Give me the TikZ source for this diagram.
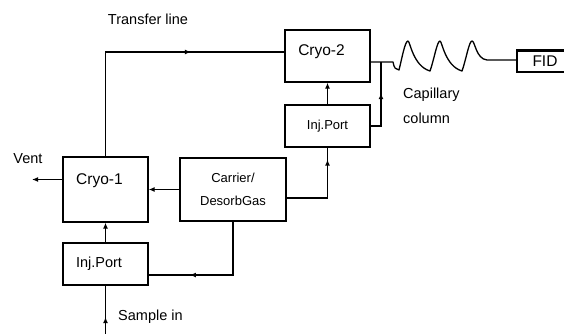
\documentclass[tikz,border=0pt]{standalone}
\usepackage{fontspec}
\setmainfont{Liberation Sans}
\usetikzlibrary{positioning,arrows.meta,decorations.markings}

\begin{document}
\begin{tikzpicture}[x=1pt, y=-1pt,
  box/.style={draw, line width=1.4pt, minimum width=85pt, inner sep=0pt},
  lbl/.style={font=\fontsize{14.5}{17}\selectfont, inner sep=0pt},
  big/.style={font=\fontsize{15.5}{18}\selectfont, inner sep=0pt},
  small/.style={font=\fontsize{13}{23}\selectfont},
  pipe/.style={draw, line width=1.3pt},
  tip/.style={-{Latex[length=6pt,width=5pt]}},
  midarr/.style={postaction={decorate}, decoration={markings,
      mark=at position #1 with {\arrow{Latex[length=6pt,width=5pt]}}}}
]
\useasboundingbox (0,0) rectangle (564,334);
\clip (0,0) rectangle (564,334);

% boxes
\node[box, minimum height=65pt] (cryo1) at (105.5,189.5) {};
\node[big] (cryo1txt) at (99.5,181) {Cryo-1};
\node[box, minimum height=52pt] (cryo2) at (327.5,56) {};
\node[big] (cryo2txt) at (321.5,52) {Cryo-2};
\node[box, minimum height=42pt] (injb) at (105.5,264) {};
\node[lbl] (injbtxt) at (99,264) {Inj.Port};
\node[box, small, minimum height=42pt] (injt) at (327.5,126) {Inj.Port};
\node[box, small, minimum width=106pt, minimum height=63pt, align=center] (carrier) at (233,189.5) {Carrier/\\DesorbGas};
\node[box, big, minimum width=56pt, minimum height=21pt] (fid) at (545,61.5) {FID};
\draw[line width=3pt] (fid.north west) -- (fid.north east);

% labels
\node[lbl] (trans) at (148,19) {Transfer line};
\node[lbl] (venttxt) at (28,159) {Vent};
\node[lbl, anchor=west] (cap1) at (403,95) {Capillary};
\node[lbl, anchor=west] (cap2) at (403,118) {column};
\node[lbl, anchor=west] (samptxt) at (118,317) {Sample in};

% free ends
\coordinate (vent) at (32,179.5);
\coordinate (samp) at (105.5,334);
\coordinate (junc) at (381,62);
\coordinate (colin) at (393,62);

% lines
\draw[pipe, midarr=0.67] (cryo1.north) |- ([yshift=4pt]cryo2.west);
\draw[pipe, tip] ([yshift=10pt]cryo1.west) -- (vent);
\draw[pipe, tip] (carrier) -- (cryo1);
\draw[pipe, tip] (injb) -- (cryo1);
\draw[pipe, tip] (injt) -- (cryo2);
\draw[pipe, midarr=0.87] ([yshift=-8.5pt]carrier.east) -| (injt.south);
\draw[pipe, midarr=0.70] (carrier.south) |- ([yshift=-11pt]injb.east);
\draw[pipe, midarr=0.35] (samp) -- (injb.south);
\draw[pipe, midarr=0.58] (injt.east) -| (junc);

% capillary column
\draw[pipe, line join=round] ([yshift=-6pt]cryo2.east) -- (colin)
  .. controls (394,68) and (396,70) .. (399,70)
  .. controls (402,58) and (405,41) .. (408,41)
  .. controls (410,41) and (413,66) .. (430,71)
  .. controls (434,60) and (437,41) .. (440,41)
  .. controls (442,41) and (445,66) .. (462,71)
  .. controls (466,60) and (469,41) .. (472,41)
  .. controls (475,41) and (476,59) .. (487,60)
  -- ([yshift=1.5pt]fid.west);

\end{tikzpicture}
\end{document}
